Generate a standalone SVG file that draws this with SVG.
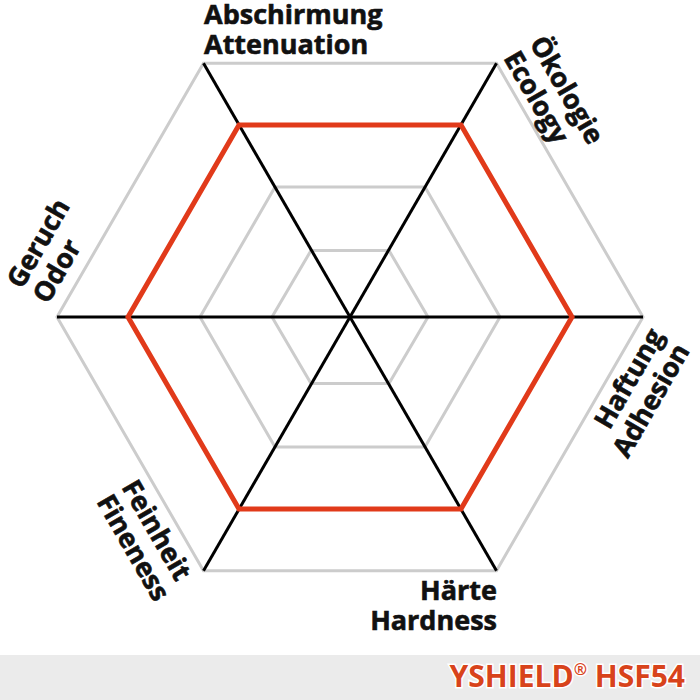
<svg xmlns="http://www.w3.org/2000/svg" width="700" height="700" viewBox="0 0 700 700">
<style>
.ring{fill:none;stroke:#cccccc;stroke-width:3;stroke-linejoin:miter}
.axis{stroke:#000;stroke-width:3}
.val{fill:none;stroke:#e13a1a;stroke-width:5;stroke-linejoin:miter}
.lbl{font-family:"Open Sans","Liberation Sans",sans-serif;font-weight:bold;font-size:27px;fill:#111;stroke:#111;stroke-width:0.6}
.brand{font-family:"Open Sans","Liberation Sans",sans-serif;font-weight:bold;font-size:30px;fill:#d8431b;stroke:#fff;stroke-width:3;paint-order:stroke}
</style>
<rect x="0" y="0" width="700" height="700" fill="#fff"/>
<rect x="0" y="655" width="700" height="45" fill="#ebebeb"/>
<g id="grid">
<polygon class="ring" points="389,250.5 428,317 389,383.5 311,383.5 272,317 311,250.5"/>
<polygon class="ring" points="425,187 500,317 425,447 275,447 200,317 275,187"/>
<polygon class="ring" points="461,125 572,317 461,509 239,509 128,317 239,125"/>
<polygon class="ring" points="496.5,63.3 643,317 496.5,570.7 203.5,570.7 57,317 203.5,63.3"/>
</g>
<g id="connectors">
<line class="axis" x1="57" y1="317" x2="643" y2="317"/>
<line class="axis" x1="203.5" y1="63.3" x2="496.5" y2="570.7"/>
<line class="axis" x1="496.5" y1="63.3" x2="203.5" y2="570.7"/>
</g>
<g id="values">
<polygon class="val" points="461,125 572,317 461,509 239,509 128,317 239,125"/>
</g>
<g id="label-attenuation">
<text class="lbl" x="204" y="24">Abschirmung</text>
<text class="lbl" x="204" y="54">Attenuation</text>
</g>
<g id="label-ecology" transform="translate(529,43) rotate(60)">
<text class="lbl" x="0" y="0">Ökologie</text>
<text class="lbl" x="0" y="30">Ecology</text>
</g>
<g id="label-adhesion" transform="translate(610,430) rotate(-60)">
<text class="lbl" x="109" y="0" text-anchor="end">Haftung</text>
<text class="lbl" x="109" y="30" text-anchor="end">Adhesion</text>
</g>
<g id="label-hardness">
<text class="lbl" x="497" y="600" text-anchor="end">Härte</text>
<text class="lbl" x="497" y="630" text-anchor="end">Hardness</text>
</g>
<g id="label-fineness" transform="translate(121,487) rotate(60)">
<text class="lbl" x="0" y="0">Feinheit</text>
<text class="lbl" x="0" y="29">Fineness</text>
</g>
<g id="label-odor" transform="translate(22,290) rotate(-60)">
<text class="lbl" x="0" y="0">Geruch</text>
<text class="lbl" x="0" y="30">Odor</text>
</g>
<g id="brand">
<text class="brand" x="685" y="687" text-anchor="end">YSHIELD<tspan font-size="16" dy="-12">®</tspan><tspan dy="12"> HSF54</tspan></text>
</g>
</svg>
